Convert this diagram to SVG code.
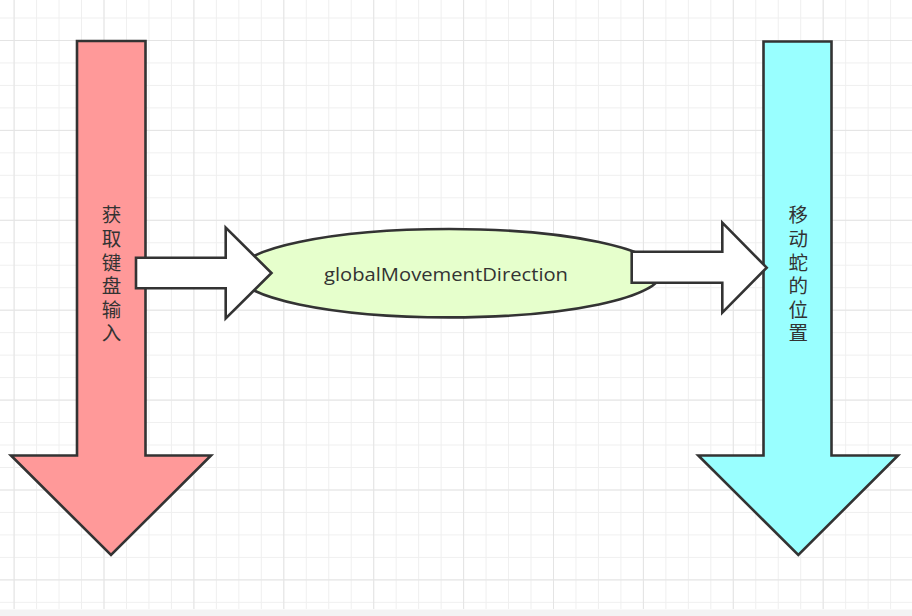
<svg xmlns="http://www.w3.org/2000/svg" width="912" height="616" viewBox="0 0 912 616">
<style>
.sh{stroke:#333333;stroke-width:2.6;stroke-linejoin:miter}
.cj{font-family:"Noto Sans CJK SC","Noto Sans",sans-serif;font-size:19.5px;fill:#333333;text-anchor:middle;dominant-baseline:central}
.lb{font-family:"Open Sans","Noto Sans",sans-serif;font-size:19px;fill:#333333;text-anchor:middle}
</style>
<defs>
<pattern id="minor" patternUnits="userSpaceOnUse" x="13.6" y="17.5" width="22.475" height="22.475">
<path d="M0.5 0V22.475M0 0.5H22.475" stroke="#efefef" stroke-width="1" fill="none"/>
</pattern>
<pattern id="major" patternUnits="userSpaceOnUse" x="13.6" y="40" width="89.9" height="89.9">
<path d="M0.5 0V89.9M0 0.5H89.9" stroke="#e4e4e4" stroke-width="1" fill="none"/>
</pattern>
</defs>
<rect width="912" height="616" fill="#ffffff"/>
<rect width="912" height="609" fill="url(#minor)"/>
<rect width="912" height="609" fill="url(#major)"/>
<rect y="609.5" width="912" height="6.5" fill="#f3f3f3"/>

<g id="node-input">
<path class="sh" fill="#ff9999" d="M77 41H145.5V455.5H211L111 555L11 455.5H77Z"/>
<text class="cj" x="111.5"><tspan x="111.5" y="213.3">获</tspan><tspan x="111.5" y="236.9">取</tspan><tspan x="111.5" y="260.5">键</tspan><tspan x="111.5" y="284.1">盘</tspan><tspan x="111.5" y="307.7">输</tspan><tspan x="111.5" y="331.3">入</tspan></text>
</g>

<g id="node-move">
<path class="sh" fill="#99ffff" d="M763.5 41.5H831.5V455.5H898L798.3 555L698.3 455.5H763.5Z"/>
<text class="cj" x="798.3"><tspan x="798.3" y="213.3">移</tspan><tspan x="798.3" y="236.9">动</tspan><tspan x="798.3" y="260.5">蛇</tspan><tspan x="798.3" y="284.1">的</tspan><tspan x="798.3" y="307.7">位</tspan><tspan x="798.3" y="331.3">置</tspan></text>
</g>

<g id="node-direction">
<ellipse class="sh" fill="#e6ffcc" cx="449" cy="273.2" rx="212" ry="44.2"/>
<text class="lb" x="446" y="280.7" textLength="244" lengthAdjust="spacingAndGlyphs">globalMovementDirection</text>
</g>

<g id="connectors">
<path class="sh" fill="#ffffff" d="M136 257.7H225.7V227.7L271.5 273L225.7 318.3V288.3H136Z"/>
<path class="sh" fill="#ffffff" d="M631.7 251.7H722.3V222.7L766.7 267.7L722.3 312.7V282.7H631.7Z"/>
</g>
</svg>
